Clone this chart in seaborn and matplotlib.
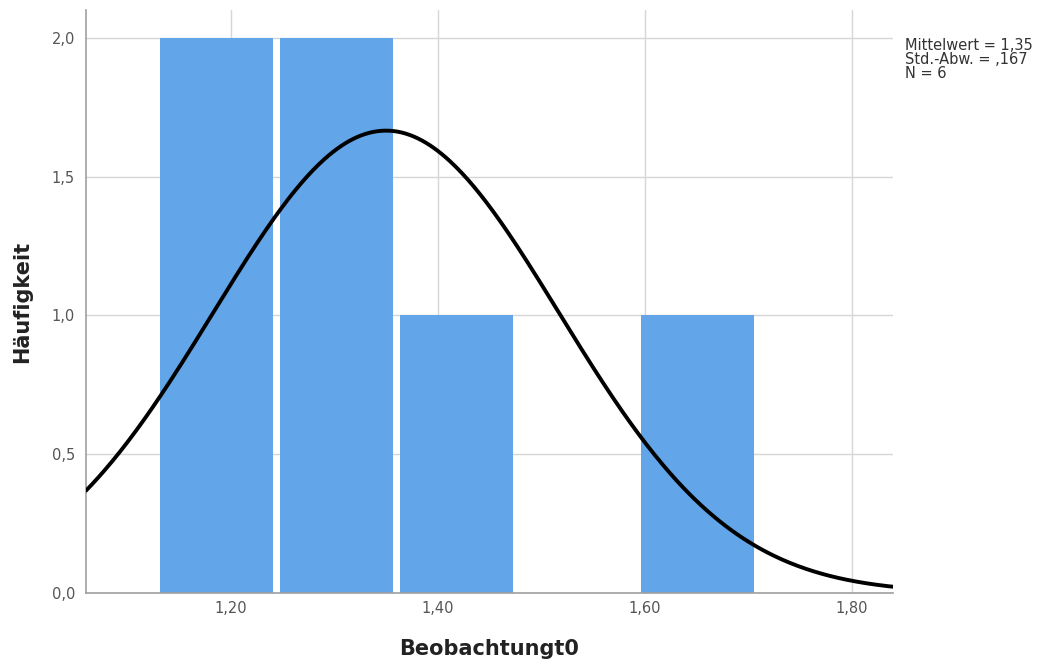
import numpy as np
import pandas as pd
import matplotlib
matplotlib.use("Agg")
import matplotlib.pyplot as plt
import seaborn as sns

# Histogram of Beobachtungt0 (SPSS-style) with fitted normal curve
bin_edges = [1.128, 1.2442, 1.3604, 1.4766, 1.5928, 1.709]
counts = [2, 2, 1, 0, 1]
mean_val = 1.35
std_val = 0.167
n_obs = 6
x_ticks = [1.20, 1.40, 1.60, 1.80]
x_tick_labels = ["1,20", "1,40", "1,60", "1,80"]
y_ticks = [0.0, 0.5, 1.0, 1.5, 2.0]
y_tick_labels = ["0,0", "0,5", "1,0", "1,5", "2,0"]
stats_text = "Mittelwert = 1,35\nStd.-Abw. = ,167\nN = 6"

sns.set_theme(style="white")
plt.rcParams["font.family"] = ["DejaVu Sans"]

fig = plt.figure(figsize=(10.4, 6.68), dpi=100)
ax = fig.add_axes([0.0827, 0.1123, 0.776, 0.8727])

centers = [(a + b) / 2 for a, b in zip(bin_edges[:-1], bin_edges[1:])]
df = pd.DataFrame({"wert": centers, "anzahl": counts})
sns.histplot(data=df, x="wert", weights="anzahl", bins=bin_edges, ax=ax,
             color="#62a5e8", alpha=1.0, linewidth=0, shrink=0.94,
             zorder=2)

# Normal curve scaled to counts per bin
bw = bin_edges[1] - bin_edges[0]
xs = np.linspace(1.06, 1.84, 400)
ys = n_obs * bw / (std_val * np.sqrt(2 * np.pi)) * np.exp(-0.5 * ((xs - mean_val) / std_val) ** 2)
sns.lineplot(x=xs, y=ys, ax=ax, color="black", linewidth=2.8, zorder=3)

ax.set_xlim(1.06, 1.84)
ax.set_ylim(0, 2.1)
ax.set_xticks(x_ticks)
ax.set_xticklabels(x_tick_labels)
ax.set_yticks(y_ticks)
ax.set_yticklabels(y_tick_labels)
ax.grid(True, color="#d6d6d6", linewidth=1.0, zorder=0)
ax.set_axisbelow(True)
ax.tick_params(axis="both", length=0, labelsize=10.5, labelcolor="#555555")
ax.tick_params(axis="x", pad=6)
ax.tick_params(axis="y", pad=8)

for side in ["top", "right"]:
    ax.spines[side].set_visible(False)
for side in ["left", "bottom"]:
    ax.spines[side].set_color("#a0a0a0")
    ax.spines[side].set_linewidth(1.2)

ax.set_xlabel("Beobachtungt0", fontsize=15, fontweight="bold", color="#222222", labelpad=16)
ax.set_ylabel("Häufigkeit", fontsize=15, fontweight="bold", color="#222222", labelpad=14)

fig.text(0.870, 0.943, stats_text, fontsize=10.5, color="#333333", va="top", ha="left",
         linespacing=0.9)

fig.savefig("out.png", dpi=100)
